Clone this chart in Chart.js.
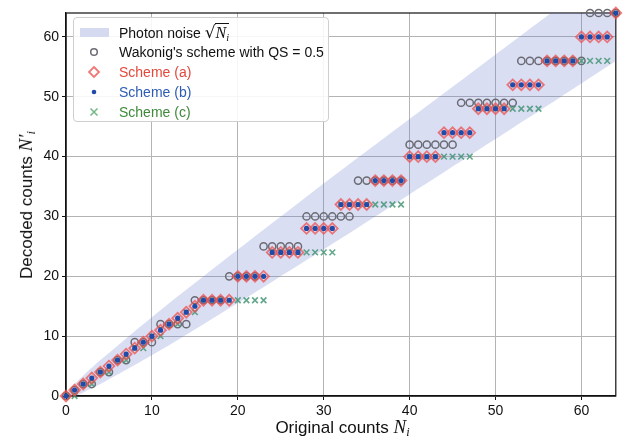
<!DOCTYPE html>
<html>
<head>
<meta charset="utf-8">
<script src="https://cdn.jsdelivr.net/npm/chart.js@4.4.1/dist/chart.umd.min.js"></script>
<style>
  html, body { margin: 0; padding: 0; background: #fff; }
  #wrap { position: relative; width: 623px; height: 438px; font-family: "Liberation Sans", Arial, sans-serif; color: #111; }
  #chart { position: absolute; left: 0; top: 0; }
  .legend { position: absolute; left: 73px; top: 17px; width: 256px; height: 105px; box-sizing: border-box;
            border: 1px solid #cfcfcf; border-radius: 4px; background: rgba(255,255,255,0.88); padding-top: 4px; }
  .legend .row { position: relative; height: 20px; line-height: 20px; font-size: 14px; padding-left: 45px; white-space: nowrap; }
  .legend svg { position: absolute; left: 5px; top: 0; }
  .math { font-family: "Liberation Serif", "DejaVu Serif", serif; font-style: italic; }
  .math sub { font-size: 0.65em; vertical-align: -0.25em; }
  .sqrt { font-family: "DejaVu Sans", sans-serif; font-style: normal; font-size: 17px; }
  .over { border-top: 1px solid #111; padding-top: 0px; font-size: 16px; }
  .xtitle { position: absolute; left: 66px; width: 553px; top: 416px; text-align: center; font-size: 17px; }
  .ytitle { position: absolute; left: 27px; top: 205px; font-size: 17px; white-space: nowrap;
            transform: translate(-50%, -50%) rotate(-90deg); }
  .xtitle .math, .ytitle .math { font-size: 19px; }
</style>
</head>
<body>
<div id="wrap">
  <canvas id="chart" width="623" height="438"></canvas>

  <div class="legend">
    <div class="row"><svg width="30" height="20"><rect x="1" y="6" width="29" height="9" fill="#d6daf0"/></svg>Photon noise <span class="sqrt">√</span><span class="over math">N<sub>i</sub></span></div>
    <div class="row"><svg width="30" height="20"><circle cx="15" cy="10" r="3.3" fill="none" stroke="#6b6b74" stroke-width="1.5"/></svg>Wakonig's scheme with QS = 0.5</div>
    <div class="row" style="color:#e5473b"><svg width="30" height="20"><polygon points="15,5 20,10 15,15 10,10" fill="none" stroke="rgba(238,85,85,0.8)" stroke-width="1.8"/></svg>Scheme (a)</div>
    <div class="row" style="color:#2c5bb6"><svg width="30" height="20"><circle cx="15" cy="10" r="2.3" fill="#1f4aa8"/></svg>Scheme (b)</div>
    <div class="row" style="color:#3e8a3a"><svg width="30" height="20"><path d="M11.5,6.5 L18.5,13.5 M18.5,6.5 L11.5,13.5" stroke="rgba(90,170,110,0.85)" stroke-width="1.5"/></svg>Scheme (c)</div>
  </div>

  <div class="xtitle">Original counts <span class="math">N<sub>i</sub></span></div>
  <div class="ytitle">Decoded counts <span class="math">N′<sub>i</sub></span></div>
</div>

<script>
// original pixel counts on the x axis
const originalCounts = [0,1,2,3,4,5,6,7,8,9,
  10,11,12,13,14,15,16,17,18,19,
  20,21,22,23,24,25,26,27,28,29,
  30,31,32,33,34,35,36,37,38,39,
  40,41,42,43,44,45,46,47,48,49,
  50,51,52,53,54,55,56,57,58,59,
  60,61,62,63,64];

// decoded counts, one per original count
const wakonigDecoded = [0,1,2,2,4,4,6,6,9,9,
  9,12,12,12,12,16,16,16,16,20,
  20,20,20,25,25,25,25,25,30,30,
  30,30,30,30,36,36,36,36,36,36,
  42,42,42,42,42,42,49,49,49,49,
  49,49,49,56,56,56,56,56,56,56,
  56,64,64,64,64];

const schemeA = [0,1,2,3,4,5,6,7,8,9,
  10,11,12,13,14,15,16,16,16,16,
  20,20,20,20,24,24,24,24,28,28,
  28,28,32,32,32,32,36,36,36,36,
  40,40,40,40,44,44,44,44,48,48,
  48,48,52,52,52,52,56,56,56,56,
  60,60,60,60,64];

const schemeB = [0,1,2,3,4,5,6,7,8,9,
  10,11,12,13,14,15,16,16,16,16,
  20,20,20,20,24,24,24,24,28,28,
  28,28,32,32,32,32,36,36,36,36,
  40,40,40,40,44,44,44,44,48,48,
  48,48,52,52,52,52,56,56,56,56,
  60,60,60,60,64];

const schemeC = [0,0,2,2,4,4,6,6,8,8,
  10,10,12,12,14,14,16,16,16,16,
  16,16,16,16,24,24,24,24,24,24,
  24,24,32,32,32,32,32,32,32,32,
  40,40,40,40,40,40,40,40,48,48,
  48,48,48,48,48,48,56,56,56,56,
  56,56,56,56,64];

// photon noise band edges
const noiseCounts = [0, 1, 2, 3, 4, 6, 8, 12, 16, 24, 32, 40, 48, 56, 64];
const noiseUpper  = [0, 2, 3.4, 4.7, 6, 8.4, 10.8, 15.5, 20, 28.9, 37.7, 46.3, 54.9, 63.5, 72];
const noiseLower  = [0, 0, 0.6, 1.3, 2, 3.6, 5.2, 8.5, 12, 19.1, 26.3, 33.7, 41.1, 48.5, 56];

const xTicks = [0, 10, 20, 30, 40, 50, 60];
const yTicks = [0, 10, 20, 30, 40, 50, 60];

function toPoints(xs, ys) {
  return xs.map((x, i) => ({ x: x, y: ys[i] }));
}

// frame on top and right like the matplotlib spines
const framePlugin = {
  id: 'frame',
  beforeDatasetsDraw(chart) {
    const a = chart.chartArea;
    const ctx = chart.ctx;
    ctx.save();
    ctx.strokeStyle = '#111';
    ctx.lineWidth = 1.2;
    ctx.strokeRect(a.left, a.top, a.right - a.left, a.bottom - a.top);
    ctx.restore();
  }
};

Chart.defaults.font.family = '"Liberation Sans", Arial, sans-serif';
Chart.defaults.color = '#111';

// datasets listed top-most first (Chart.js draws index 0 last)
new Chart(document.getElementById('chart'), {
  type: 'line',
  data: {
    datasets: [
      {
        label: 'Scheme (b)',
        data: toPoints(originalCounts, schemeB),
        showLine: false,
        pointStyle: 'circle',
        pointRadius: 2.6,
        pointBorderWidth: 0,
        pointBackgroundColor: '#1f4aa8',
        pointBorderColor: '#1f4aa8',
        clip: false
      },
      {
        label: 'Scheme (a)',
        data: toPoints(originalCounts, schemeA),
        showLine: false,
        pointStyle: 'rectRot',
        pointRadius: 5.4,
        pointBorderWidth: 1.8,
        pointBackgroundColor: 'rgba(255,255,255,0)',
        pointBorderColor: 'rgba(238,80,80,0.75)',
        clip: false
      },
      {
        label: 'Scheme (c)',
        data: toPoints(originalCounts, schemeC),
        showLine: false,
        pointStyle: 'crossRot',
        pointRadius: 4,
        pointBorderWidth: 1.6,
        pointBorderColor: 'rgba(60,145,110,0.8)',
        clip: false
      },
      {
        label: "Wakonig's scheme with QS = 0.5",
        data: toPoints(originalCounts, wakonigDecoded),
        showLine: false,
        pointStyle: 'circle',
        pointRadius: 3.6,
        pointBorderWidth: 1.5,
        pointBackgroundColor: 'rgba(255,255,255,0)',
        pointBorderColor: '#6b6b74',
        clip: false
      },
      {
        label: 'Photon noise',
        data: toPoints(noiseCounts, noiseUpper),
        borderWidth: 0,
        pointRadius: 0,
        tension: 0.3,
        fill: '+1',
        backgroundColor: 'rgba(95,115,205,0.24)'
      },
      {
        label: 'noise lower',
        data: toPoints(noiseCounts, noiseLower),
        borderWidth: 0,
        pointRadius: 0,
        tension: 0.3,
        fill: false
      }
    ]
  },
  options: {
    responsive: false,
    animation: false,
    events: [],
    layout: { padding: { left: 0, right: 4, top: 13, bottom: 0 } },
    plugins: {
      legend: { display: false },
      tooltip: { enabled: false }
    },
    scales: {
      x: {
        type: 'linear',
        min: 0,
        max: 64,
        afterBuildTicks: s => { s.ticks = xTicks.map(v => ({ value: v })); },
        afterFit: s => { s.height = 42; },
        ticks: { font: { size: 14 }, padding: 3, maxRotation: 0 },
        grid: { color: '#b4b4b4', lineWidth: 1, tickLength: 4, tickColor: '#111' },
        border: { color: '#111', width: 1.2 }
      },
      y: {
        type: 'linear',
        min: 0,
        max: 64,
        afterBuildTicks: s => { s.ticks = yTicks.map(v => ({ value: v })); },
        afterFit: s => { s.width = 66; },
        ticks: { font: { size: 14 }, padding: 3 },
        grid: { color: '#b4b4b4', lineWidth: 1, tickLength: 4, tickColor: '#111' },
        border: { color: '#111', width: 1.2 }
      }
    }
  },
  plugins: [framePlugin]
});
</script>
</body>
</html>
